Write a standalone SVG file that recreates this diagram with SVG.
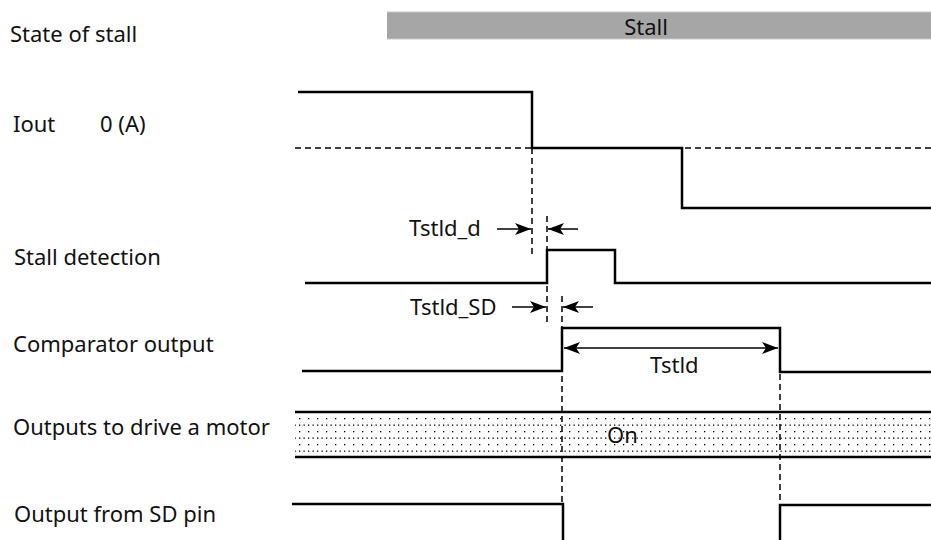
<svg xmlns="http://www.w3.org/2000/svg" width="931" height="540" viewBox="0 0 931 540">
<style>
text{font-family:"Noto Sans","DejaVu Sans",sans-serif;font-size:22px;fill:#111}
.sig{fill:none;stroke:#000;stroke-width:2.5;stroke-linejoin:miter}
.dash{fill:none;stroke:#000;stroke-width:1.5;stroke-dasharray:6 4}
.arr{fill:none;stroke:#000;stroke-width:1.5}
</style>
<defs>
<marker id="ah" viewBox="0 0 16 12" refX="16" refY="6" markerWidth="16" markerHeight="12" markerUnits="userSpaceOnUse" orient="auto-start-reverse">
<path d="M0,0 L16,6 L0,12 L4,6 Z" fill="#000"/>
</marker>
<pattern id="dots" width="9" height="13" patternUnits="userSpaceOnUse">
<rect x="2" y="2" width="1.3" height="1.3" fill="#000"/>
<rect x="6.5" y="8.5" width="1.3" height="1.3" fill="#000"/>
<rect x="2" y="8.5" width="1.3" height="1.3" fill="#000"/>
</pattern>
</defs>
<rect width="931" height="540" fill="#fff"/>
<g id="labels">
<text x="10" y="42">State of stall</text>
<text x="13" y="132">Iout</text>
<text x="100" y="132">0 (A)</text>
<text x="14" y="265">Stall detection</text>
<text x="13" y="352">Comparator output</text>
<text x="13" y="435">Outputs to drive a motor</text>
<text x="14" y="522">Output from SD pin</text>
</g>
<g id="stall-bar">
<rect x="387" y="12" width="544" height="27" fill="#a6a6a6"/>
<line x1="387" y1="12" x2="931" y2="12" stroke="#c8c8c8" stroke-width="1"/>
<line x1="387" y1="39" x2="931" y2="39" stroke="#c8c8c8" stroke-width="1"/>
<text x="646" y="35" text-anchor="middle">Stall</text>
</g>
<g id="iout">
<line class="dash" x1="295" y1="148" x2="931" y2="148"/>
<path class="sig" d="M298,92 H532 V148 H682 V208 H931"/>
</g>
<g id="stall-detection">
<path class="sig" d="M305,283 H547 V250 H615 V283 H931"/>
</g>
<g id="comparator">
<path class="sig" d="M302,371 H562 V328 H780 V372 H931"/>
</g>
<g id="outputs">
<rect x="295" y="412" width="636" height="45" fill="url(#dots)"/>
<line class="sig" x1="295" y1="412" x2="931" y2="412"/>
<line class="sig" x1="295" y1="457" x2="931" y2="457"/>
<text x="607" y="443">On</text>
</g>
<g id="sd-pin">
<path class="sig" d="M292,504 H563 V540"/>
<path class="sig" d="M780,540 V505 H931"/>
</g>
<g id="connectors">
<line class="dash" x1="532" y1="148" x2="532" y2="255"/>
<line class="dash" x1="547" y1="216" x2="547" y2="323"/>
<line class="dash" x1="562" y1="296" x2="562" y2="504"/>
<line class="dash" x1="780" y1="374" x2="780" y2="505"/>
<line class="arr" x1="497" y1="229" x2="531" y2="229" marker-end="url(#ah)"/>
<line class="arr" x1="578" y1="229" x2="548" y2="229" marker-end="url(#ah)"/>
<line class="arr" x1="512" y1="307" x2="546" y2="307" marker-end="url(#ah)"/>
<line class="arr" x1="593" y1="307" x2="563" y2="307" marker-end="url(#ah)"/>
<line class="arr" x1="564" y1="348" x2="778" y2="348" marker-start="url(#ah)" marker-end="url(#ah)"/>
<text x="409" y="236">Tstld_d</text>
<text x="410" y="315">Tstld_SD</text>
<text x="650" y="373">Tstld</text>
</g>
</svg>
